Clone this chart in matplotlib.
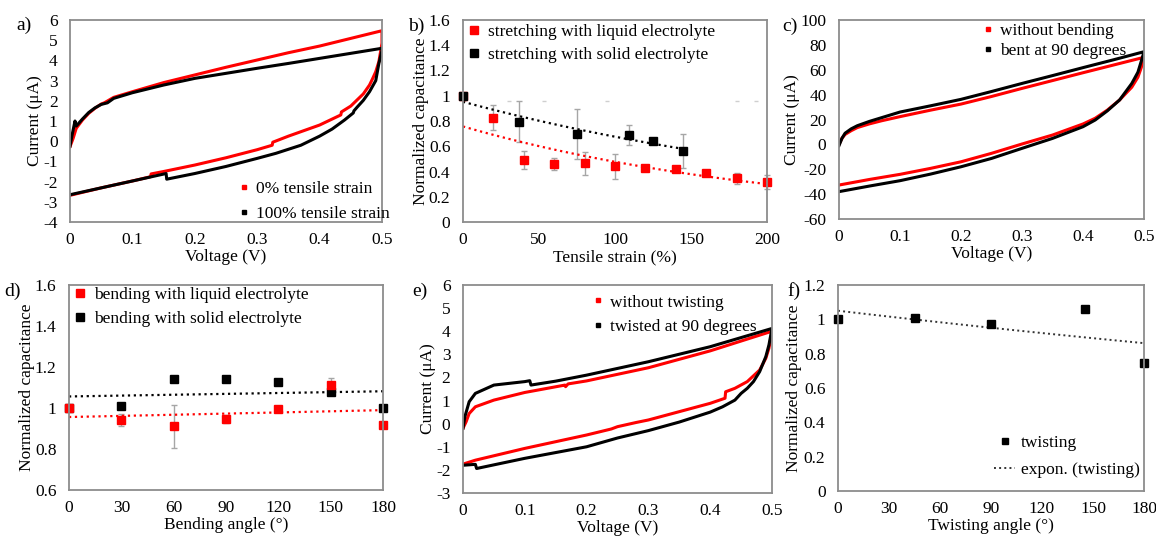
import numpy as np
import matplotlib
matplotlib.use("Agg")
import matplotlib.pyplot as plt
from matplotlib.ticker import FuncFormatter
from matplotlib.lines import Line2D

plt.rcParams['font.family'] = ['Liberation Serif', 'DejaVu Serif']
plt.rcParams['axes.unicode_minus'] = False

W, H = 1156, 538

# ---- a) CV, tensile strain
a_red_v = [0, 0.005, 0.01, 0.02, 0.03, 0.04, 0.05, 0.055, 0.07, 0.1, 0.15, 0.2, 0.25, 0.3, 0.35, 0.4, 0.45, 0.5,
           0.5, 0.495, 0.49, 0.485, 0.48, 0.47, 0.46, 0.45, 0.435, 0.434, 0.4, 0.35, 0.325, 0.324, 0.3, 0.25,
           0.2, 0.15, 0.13, 0.129, 0.1, 0.05, 0]
a_red_i = [-0.27, 0.14, 0.64, 1.05, 1.38, 1.63, 1.84, 1.9, 2.17, 2.45, 2.9, 3.28, 3.66, 4.02, 4.38, 4.71, 5.09, 5.47,
           4.85, 3.94, 3.44, 3.1, 2.78, 2.34, 2.04, 1.74, 1.45, 1.3, 0.8, 0.25, -0.05, -0.2, -0.42, -0.82,
           -1.18, -1.5, -1.62, -1.76, -1.97, -2.31, -2.68]
a_blk_v = [0, 0.003, 0.008, 0.01, 0.02, 0.03, 0.04, 0.05, 0.06, 0.07, 0.1, 0.15, 0.2, 0.25, 0.3, 0.35, 0.4, 0.45, 0.5,
           0.5, 0.495, 0.49, 0.48, 0.47, 0.46, 0.455, 0.454, 0.44, 0.42, 0.4, 0.37, 0.33, 0.3, 0.25, 0.2,
           0.155, 0.154, 0.1, 0.05, 0]
a_blk_i = [-0.25, 0.25, 1.0, 0.75, 1.1, 1.42, 1.65, 1.82, 1.9, 2.12, 2.4, 2.78, 3.11, 3.36, 3.61, 3.85, 4.1, 4.35, 4.6,
           4.5, 3.85, 3.0, 2.45, 2.02, 1.68, 1.5, 1.4, 1.05, 0.6, 0.25, -0.2, -0.6, -0.85, -1.25, -1.6,
           -1.88, -1.6, -1.97, -2.31, -2.65]

# ---- b) capacitance vs tensile strain
b_liq_x = [0, 20, 40, 60, 80, 100, 120, 140, 160, 180, 200]
b_liq_y = [1.0, 0.826, 0.49, 0.457, 0.465, 0.44, 0.43, 0.42, 0.385, 0.345, 0.32]
b_liq_err = [0, 0.1, 0.07, 0.047, 0.092, 0.1, 0.01, 0.015, 0.015, 0.045, 0.055]
b_sol_x = [0, 37, 75, 109, 125, 145]
b_sol_y = [1.0, 0.795, 0.697, 0.69, 0.64, 0.565]
b_sol_err = [0, 0.16, 0.2, 0.08, 0.01, 0.135]
b_cap_x = [30, 53, 95, 180, 193]
b_cap_y = [0.955, 0.955, 0.955, 0.955, 0.955]

# ---- c) CV, bending
c_v = [0, 0.005, 0.01, 0.02, 0.03, 0.05, 0.07, 0.1, 0.15, 0.2, 0.25, 0.3, 0.35, 0.4, 0.45, 0.5,
       0.5, 0.495, 0.49, 0.48, 0.46, 0.44, 0.42, 0.4, 0.35, 0.3, 0.25, 0.2, 0.15, 0.1, 0.05, 0]
c_red_i = [0, 5, 8, 11, 13.5, 16.5, 19, 22.3, 27.5, 32.4, 38.5, 45, 51.3, 57.6, 63.8, 70,
           69, 61, 54, 46, 35.7, 27.6, 21, 16.4, 7.5, 0.3, -7.2, -14, -19.3, -24.1, -28.2, -32.7]
c_blk_i = [-1, 5, 9, 12.5, 15, 18.5, 21.5, 26, 31, 36.2, 42.5, 49, 55.3, 61.7, 68, 74.5,
           74.5, 66, 58, 49, 35.7, 27, 19.6, 14.2, 4.8, -3.2, -11.3, -18, -23.9, -29.2, -33.5, -38]

# ---- d) capacitance vs bending angle
d_x = [0, 30, 60, 90, 120, 150, 180]
d_liq_y = [1.0, 0.941, 0.912, 0.946, 0.995, 1.112, 0.917]
d_liq_err = [0, 0.03, 0.105, 0.02, 0.01, 0.035, 0.01]
d_sol_y = [1.0, 1.01, 1.143, 1.141, 1.125, 1.076, 1.0]

# ---- e) CV, twisting
e_red_v = [0, 0.005, 0.01, 0.02, 0.05, 0.1, 0.165, 0.166, 0.17, 0.2, 0.3, 0.4, 0.5,
           0.5, 0.495, 0.49, 0.48, 0.46, 0.44, 0.425, 0.424, 0.4, 0.35, 0.3, 0.28, 0.25, 0.24, 0.2, 0.1, 0.02, 0]
e_red_i = [-0.2, 0.08, 0.44, 0.73, 1.02, 1.35, 1.67, 1.6, 1.72, 1.85, 2.42, 3.15, 4.0,
           3.98, 3.26, 2.83, 2.32, 1.82, 1.53, 1.38, 1.1, 0.88, 0.52, 0.16, 0.05, -0.13, -0.23, -0.49, -1.07, -1.58, -1.75]
e_blk_v = [0, 0.003, 0.01, 0.02, 0.05, 0.1, 0.108, 0.11, 0.15, 0.2, 0.3, 0.4, 0.5,
           0.5, 0.495, 0.49, 0.48, 0.47, 0.46, 0.45, 0.44, 0.42, 0.4, 0.35, 0.3, 0.25, 0.2, 0.1, 0.022, 0.02, 0]
e_blk_i = [-0.2, 0.3, 0.95, 1.31, 1.67, 1.82, 1.86, 1.67, 1.84, 2.1, 2.68, 3.33, 4.12,
           4.12, 3.4, 2.9, 2.25, 1.82, 1.53, 1.31, 1.02, 0.73, 0.5, 0.07, -0.3, -0.62, -1.0, -1.5, -1.94, -1.76, -1.8]

# ---- f) capacitance vs twisting angle
f_x = [0, 45, 90, 145, 180]
f_y = [1.0, 1.006, 0.973, 1.058, 0.743]

RED = '#ff0000'
GREY = '#a6a6a6'
FS = 12.5


def box(l, r, t, b):
    return [l / W, 1 - b / H, (r - l) / W, (b - t) / H]


def style(ax, xlim, ylim, xstep, ystep):
    ax.set_xlim(*xlim)
    ax.set_ylim(*ylim)
    ax.set_xticks(np.arange(xlim[0], xlim[1] + xstep / 2, xstep))
    ax.set_yticks(np.arange(ylim[0], ylim[1] + ystep / 2, ystep))
    fmt = FuncFormatter(lambda v, p: f'{round(v, 6):g}')
    ax.xaxis.set_major_formatter(fmt)
    ax.yaxis.set_major_formatter(fmt)
    ax.tick_params(length=0, labelsize=FS)
    ax.tick_params(axis='x', pad=7)
    ax.tick_params(axis='y', pad=9)
    for s in ax.spines.values():
        s.set_color('#8c8c8c')
        s.set_linewidth(1.3)


def expfit(x, y, x0, x1):
    k, b = np.polyfit(x, np.log(y), 1)
    xs = np.linspace(x0, x1, 50)
    return xs, np.exp(b) * np.exp(k * xs)


def dot_legend(ax, labels, colors, **kw):
    hs = [Line2D([], [], ls='none', marker='s', ms=2.5, color=c) for c in colors]
    ax.legend(hs, labels, frameon=False, fontsize=FS, handlelength=0.6,
              handletextpad=0.4, borderpad=0, borderaxespad=0, **kw)


def sq_legend(ax, labels, colors, **kw):
    hs = [Line2D([], [], ls='none', marker='s', ms=5.5, color=c) for c in colors]
    ax.legend(hs, labels, frameon=False, fontsize=FS, handlelength=0.6,
              handletextpad=0.5, borderpad=0, borderaxespad=0, **kw)


fig = plt.figure(figsize=(W / 100, H / 100), dpi=100)

# a
ax = fig.add_axes(box(70, 382, 20, 222))
ax.plot(a_red_v, a_red_i, color=RED, lw=2.2)
ax.plot(a_blk_v, a_blk_i, color='black', lw=2.2)
style(ax, (0, 0.5), (-4, 6), 0.1, 1)
ax.set_xlabel('Voltage (V)', fontsize=FS, labelpad=1)
ax.set_ylabel('Current (μA)', fontsize=FS, labelpad=0)
dot_legend(ax, ['0% tensile strain', '100% tensile strain'], [RED, 'black'],
           loc='upper left', bbox_to_anchor=(0.54, 0.205), labelspacing=0.55)

# b
ax = fig.add_axes(box(463, 767, 20, 222))
ax.errorbar(b_liq_x, b_liq_y, yerr=b_liq_err, fmt='none', ecolor=GREY, elinewidth=1, capsize=2, clip_on=False)
ax.errorbar(b_sol_x, b_sol_y, yerr=b_sol_err, fmt='none', ecolor=GREY, elinewidth=1, capsize=2, clip_on=False)
ax.plot(b_cap_x, b_cap_y, ls='none', marker='_', ms=3, color='#cfcfcf')
xs, ys = expfit(b_liq_x, b_liq_y, 0, 200)
ax.plot(xs, ys, ls=':', color=RED, lw=1.6)
xs, ys = expfit(b_sol_x, b_sol_y, 0, 145)
ax.plot(xs, ys, ls=':', color='black', lw=1.6)
ax.plot(b_liq_x, b_liq_y, ls='none', marker='s', ms=5.5, color=RED, clip_on=False)
ax.plot(b_sol_x, b_sol_y, ls='none', marker='s', ms=5.5, color='black', clip_on=False)
style(ax, (0, 200), (0, 1.6), 50, 0.2)
ax.set_xlabel('Tensile strain (%)', fontsize=FS, labelpad=1)
ax.set_ylabel('Normalized capacitance', fontsize=FS, labelpad=0)
sq_legend(ax, ['stretching with liquid electrolyte', 'stretching with solid electrolyte'], [RED, 'black'],
          loc='upper left', bbox_to_anchor=(0.02, 0.98), labelspacing=0.4)

# c
ax = fig.add_axes(box(839, 1144, 20, 219))
ax.plot(c_v, c_red_i, color=RED, lw=2.2)
ax.plot(c_v, c_blk_i, color='black', lw=2.2)
style(ax, (0, 0.5), (-60, 100), 0.1, 20)
ax.set_xlabel('Voltage (V)', fontsize=FS, labelpad=1)
ax.set_ylabel('Current (μA)', fontsize=FS, labelpad=0)
dot_legend(ax, ['without bending', 'bent at 90 degrees'], [RED, 'black'],
           loc='upper left', bbox_to_anchor=(0.47, 0.985), labelspacing=0.2)

# d
ax = fig.add_axes(box(69, 383, 285, 490))
ax.errorbar(d_x, d_liq_y, yerr=d_liq_err, fmt='none', ecolor=GREY, elinewidth=1, capsize=2, clip_on=False)
xs, ys = expfit(d_x, d_sol_y, 0, 180)
ax.plot(xs, ys, ls=':', color='black', lw=1.6)
xs, ys = expfit(d_x, d_liq_y, 0, 180)
ax.plot(xs, ys, ls=':', color=RED, lw=1.6)
ax.plot(d_x, d_sol_y, ls='none', marker='s', ms=5.5, color='black', clip_on=False)
ax.plot(d_x, d_liq_y, ls='none', marker='s', ms=5.5, color=RED, clip_on=False)
style(ax, (0, 180), (0.6, 1.6), 30, 0.2)
ax.set_xlabel('Bending angle (°)', fontsize=FS, labelpad=1)
ax.set_ylabel('Normalized capacitance', fontsize=FS, labelpad=0)
sq_legend(ax, ['bending with liquid electrolyte', 'bending with solid electrolyte'], [RED, 'black'],
          loc='upper left', bbox_to_anchor=(0.02, 0.99), labelspacing=0.45)

# e
ax = fig.add_axes(box(463, 772, 285, 493))
ax.plot(e_red_v, e_red_i, color=RED, lw=2.2)
ax.plot(e_blk_v, e_blk_i, color='black', lw=2.2)
style(ax, (0, 0.5), (-3, 6), 0.1, 1)
ax.set_xlabel('Voltage (V)', fontsize=FS, labelpad=1)
ax.set_ylabel('Current (μA)', fontsize=FS, labelpad=0)
dot_legend(ax, ['without twisting', 'twisted at 90 degrees'], [RED, 'black'],
           loc='upper left', bbox_to_anchor=(0.42, 0.955), labelspacing=0.5)

# f
ax = fig.add_axes(box(838, 1144, 285, 491))
xs, ys = expfit(f_x, f_y, 0, 180)
ax.plot(xs, ys, ls=':', color='#333333', lw=1.4, label='expon. (twisting)')
ax.plot(f_x, f_y, ls='none', marker='s', ms=5.5, color='black', label='twisting', clip_on=False)
style(ax, (0, 180), (0, 1.2), 30, 0.2)
ax.set_xlabel('Twisting angle (°)', fontsize=FS, labelpad=1)
ax.set_ylabel('Normalized capacitance', fontsize=FS, labelpad=1)
h, l = ax.get_legend_handles_labels()
ax.legend(h[::-1], l[::-1], frameon=False, fontsize=FS, handlelength=1.2, handletextpad=0.3,
          borderpad=0, borderaxespad=0, loc='lower right', bbox_to_anchor=(0.985, 0.065),
          labelspacing=0.6, markerscale=0.8)

# panel letters
for s, x, y in [('a)', 16, 25), ('b)', 408, 26), ('c)', 782, 26),
                ('d)', 4, 291), ('e)', 412, 291), ('f)', 787, 291)]:
    fig.text(x / W, 1 - y / H, s, fontsize=14, va='center', ha='left')

fig.savefig('out.png', dpi=100)
